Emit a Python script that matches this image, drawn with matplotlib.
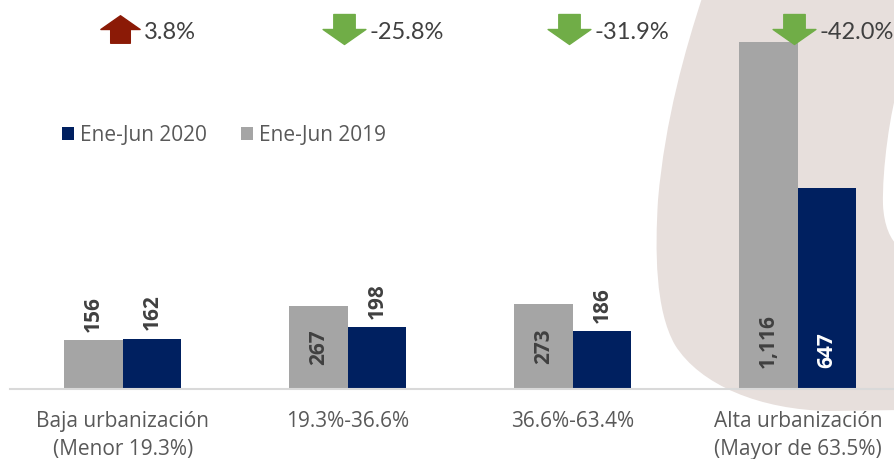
import numpy as np
import matplotlib
matplotlib.use("Agg")
import matplotlib.pyplot as plt
from matplotlib.path import Path
from matplotlib.patches import PathPatch, Patch


categories = ["Baja urbanización\n(Menor 19.3%)", "19.3%-36.6%",
              "36.6%-63.4%", "Alta urbanización\n(Mayor de 63.5%)"]
values_2019 = [156, 267, 273, 1116]
values_2020 = [162, 198, 186, 647]
series_names = ["Ene-Jun 2020", "Ene-Jun 2019"]

# where each value label sits: out = above bar, mid = centred, base = bottom
label_pos_2019 = ["out", "mid", "mid", "base"]
label_pos_2020 = ["out", "out", "out", "base"]

GREY = "#A5A5A5"
NAVY = "#002060"
BEIGE = "#E7DFDC"
TEXT = "#404040"
LABEL = "#595959"

W, H = 894, 459

plt.rcParams["font.family"] = ["Open Sans", "DejaVu Sans"]

fig = plt.figure(figsize=(W / 100, H / 100), dpi=100)


def fx(px):
    return px / W


def fy(py):
    return 1 - py / H


# decorative background blob on the right
blob = [
    ((703, -5), Path.MOVETO),
    ((900, -5), Path.LINETO),
    ((900, 80), Path.LINETO),
    ((890, 110), Path.CURVE4), ((882, 170), Path.CURVE4), ((883, 205), Path.CURVE4),
    ((884, 225), Path.CURVE4), ((890, 240), Path.CURVE4), ((900, 248), Path.CURVE4),
    ((900, 410), Path.LINETO),
    ((830, 411), Path.LINETO),
    ((760, 410), Path.CURVE4), ((700, 385), Path.CURVE4), ((675, 345), Path.CURVE4),
    ((655, 310), Path.CURVE4), ((655, 250), Path.CURVE4), ((658, 200), Path.CURVE4),
    ((665, 120), Path.CURVE4), ((685, 50), Path.CURVE4), ((703, -5), Path.CURVE4),
    ((703, -5), Path.CLOSEPOLY),
]
verts = [(fx(p[0]), fy(p[1])) for p, _ in blob]
codes = [c for _, c in blob]
fig.patches.append(PathPatch(Path(verts, codes), facecolor=BEIGE, edgecolor="none",
                             transform=fig.transFigure, zorder=-1))

ax = fig.add_axes([fx(10), fy(389), 1 - fx(10), fy(0) - fy(389)])
ax.set_facecolor("none")

x = np.arange(len(categories))
bw = 0.26
bars19 = ax.bar(x - bw / 2, values_2019, bw, color=GREY, zorder=2)
bars20 = ax.bar(x + bw / 2, values_2020, bw, color=NAVY, zorder=2)

ax.set_xlim(-0.502, 3.427)
ax.set_ylim(0, 1251)

for s in ["top", "right", "left"]:
    ax.spines[s].set_visible(False)
ax.spines["bottom"].set_color("#D9D9D9")
ax.spines["bottom"].set_linewidth(1.5)
ax.set_yticks([])
ax.set_xticks(x)
ax.set_xticklabels(categories, fontsize=15, color=LABEL, linespacing=1.4)
ax.tick_params(axis="x", length=0, pad=16)


def put_labels(bars, vals, where, color_in):
    for b, v, pos in zip(bars, vals, where):
        cx = b.get_x() + b.get_width() / 2
        txt = f"{v:,}"
        kw = dict(rotation=90, ha="center", fontsize=15, fontweight="bold",
                  textcoords="offset points")
        if pos == "out":
            ax.annotate(txt, (cx, v), xytext=(0, 6), va="bottom", color=TEXT, **kw)
        elif pos == "mid":
            ax.annotate(txt, (cx, v / 2), xytext=(0, 0), va="center", color=TEXT, **kw)
        else:
            ax.annotate(txt, (cx, 0), xytext=(0, 15), va="bottom", color=color_in, **kw)


put_labels(bars19, values_2019, label_pos_2019, TEXT)
put_labels(bars20, values_2020, label_pos_2020, "white")

# change arrows and percentages
up = Path([(-0.5, -0.7), (0.5, -0.7), (0.5, 0), (1, 0), (0, 0.7), (-1, 0),
           (-0.5, 0), (-0.5, -0.7)], closed=True)
down = Path([(-0.5, 0.7), (0.5, 0.7), (0.5, 0), (1, 0), (0, -0.7), (-1, 0),
             (-0.5, 0), (-0.5, 0.7)], closed=True)

for i, (a, b) in enumerate(zip(values_2019, values_2020)):
    change = (b - a) / a * 100
    if change >= 0:
        ax.scatter(i - 0.015, 1158, marker=up, s=800, color="#8B1A06",
                   clip_on=False, zorder=3)
    else:
        ax.scatter(i - 0.018, 1158, marker=down, s=950, color="#70AD47",
                   clip_on=False, zorder=3)
    ax.text(i + 0.095, 1147, f"{change:.1f}%", fontsize=17, color=TEXT,
            family=["Lato", "DejaVu Sans"], va="center", ha="left", clip_on=False)

handles = [Patch(facecolor=NAVY), Patch(facecolor=GREY)]
fig.legend(handles, series_names, loc="center left",
           bbox_to_anchor=(fx(62), fy(135)), frameon=False, ncol=2,
           fontsize=15, labelcolor=LABEL, handlelength=0.58, handleheight=0.58,
           handletextpad=0.3, columnspacing=1.6, borderpad=0, borderaxespad=0)

fig.savefig("out.png", dpi=100, facecolor="white")
